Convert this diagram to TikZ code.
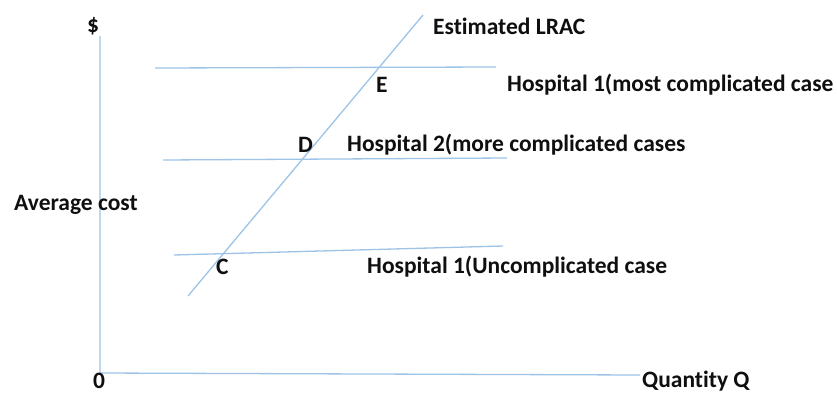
\documentclass[tikz,border=0pt]{standalone}
\usepackage{fontspec}
\setmainfont{Carlito}[Ligatures={NoCommon}]
\begin{document}
\begin{tikzpicture}[x=1pt,y=-1pt,
  curve/.style={draw={rgb,255:red,157;green,195;blue,230}, line width=1.3pt},
  lbl/.style={inner sep=0pt, anchor=west, font=\fontsize{23.5}{26}\selectfont\bfseries, text={rgb,255:red,15;green,15;blue,15}}]
\useasboundingbox (0,0) rectangle (837,394);

% axes
\coordinate (ytop) at (100,36);
\coordinate (orig) at (100,373);
\coordinate (xend) at (640,375);
\draw[curve] (ytop) -- (orig) -- (xend);

% firm cost levels
\coordinate (h1a) at (155,68);  \coordinate (h1b) at (496,67);
\coordinate (h2a) at (163,160); \coordinate (h2b) at (507,158);
\coordinate (h3a) at (174,255); \coordinate (h3b) at (503,246);
\draw[curve] (h1a) -- (h1b);
\draw[curve] (h2a) -- (h2b);
\draw[curve] (h3a) -- (h3b);

% estimated long-run average cost
\coordinate (lrac0) at (188,296);
\coordinate (lrac1) at (423,15);
\draw[curve] (lrac0) -- (lrac1);

% labels
\node[lbl] (dollar) at (87,26) {\$};
\node[lbl] (zero) at (93,381) {0};
\node[lbl] (qty) at (642,381) {Quantity Q};
\node[lbl] (avg) at (14,205) {Average cost};
\node[lbl] (lrac) at (433,26) {Estimated LRAC};
\node[lbl] (E) at (376,85) {E};
\node[lbl] (D) at (298,145) {D};
\node[lbl] (C) at (216,267) {C};
\node[lbl] (hosp1) at (507,85) {Hospital 1(most complicated case};
\node[lbl] (hosp2) at (347,145) {Hospital 2(more complicated cases};
\node[lbl] (hosp3) at (367,267) {Hospital 1(Uncomplicated case};
\end{tikzpicture}
\end{document}
